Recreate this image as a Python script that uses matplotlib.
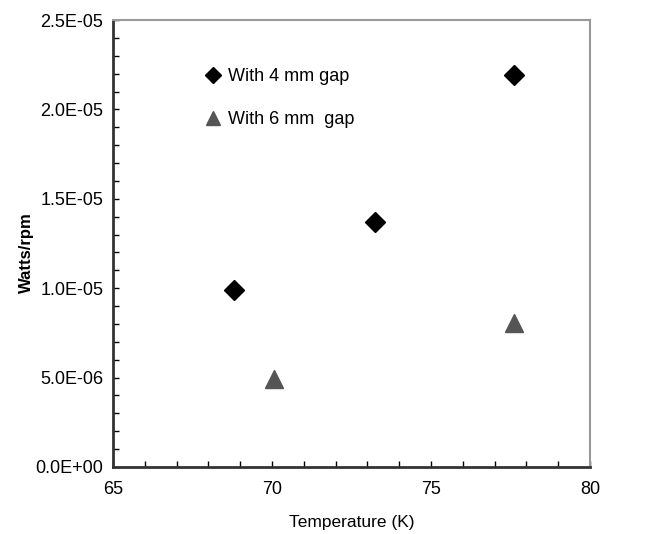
import matplotlib
matplotlib.use("Agg")
from matplotlib import pyplot as plt
from matplotlib.ticker import MultipleLocator, FormatStrFormatter

# data
temp_4mm = [68.8, 73.25, 77.6]
power_4mm = [9.9e-6, 1.37e-5, 2.19e-5]
temp_6mm = [70.05, 77.6]
power_6mm = [4.9e-6, 8.05e-6]

label_4mm = "With 4 mm gap"
label_6mm = "With 6 mm  gap"

plt.rcParams['font.family'] = ['Liberation Sans', 'DejaVu Sans']

fig = plt.figure(figsize=(6.5, 5.34), dpi=100)
ax = fig.add_axes([0.1738, 0.1255, 0.7339, 0.837])

ax.plot(temp_4mm, power_4mm, linestyle='none', marker='D', markersize=10.5,
        color='black', label=label_4mm)
ax.plot(temp_6mm, power_6mm, linestyle='none', marker='^', markersize=13,
        color='#555555', label=label_6mm)

ax.set_xlim(65, 80)
ax.set_ylim(0, 2.5e-5)
ax.xaxis.set_major_locator(MultipleLocator(5))
ax.xaxis.set_minor_locator(MultipleLocator(1))
ax.yaxis.set_major_locator(MultipleLocator(5e-6))
ax.yaxis.set_minor_locator(MultipleLocator(1e-6))


def sci(v, pos):
    return "%.1E" % v


ax.yaxis.set_major_formatter(plt.FuncFormatter(sci))
ax.xaxis.set_major_formatter(FormatStrFormatter('%d'))

ax.tick_params(which='both', direction='in', length=4, width=1,
               labelsize=13, top=False, right=False)
ax.tick_params(axis='x', pad=10)
ax.tick_params(axis='y', pad=7)

for side in ['left', 'bottom']:
    ax.spines[side].set_color('#333333')
    ax.spines[side].set_linewidth(2)
for side in ['top', 'right']:
    ax.spines[side].set_color('#999999')
    ax.spines[side].set_linewidth(1.5)

ax.set_xlabel("Temperature (K)", fontsize=12.5, labelpad=12)
ax.set_ylabel("Watts/rpm", fontsize=12, fontweight='bold')
ax.yaxis.set_label_coords(-0.165, 0.48)

ax.legend(loc='upper left', bbox_to_anchor=(0.18, 0.913), frameon=False,
          fontsize=13, handlelength=0.6, handletextpad=0.5,
          labelspacing=1.45, markerscale=0.8, borderpad=0)

fig.savefig("out.png", dpi=100)
